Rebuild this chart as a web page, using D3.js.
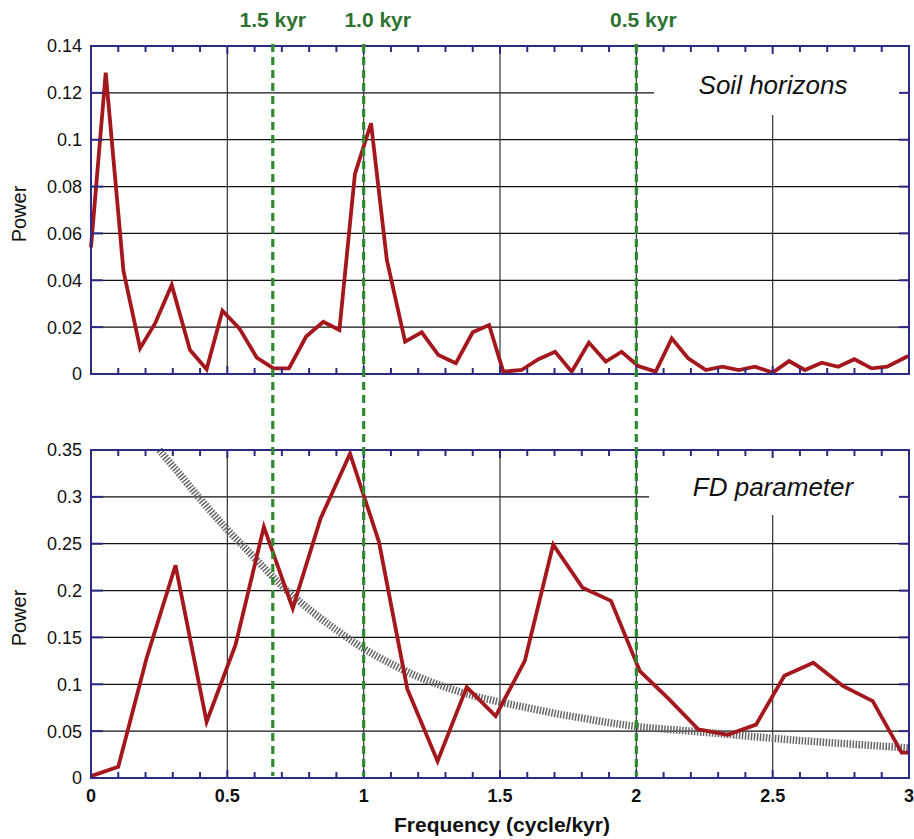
<!DOCTYPE html>
<html>
<head>
<meta charset="utf-8">
<script src="https://cdn.jsdelivr.net/npm/d3@7"></script>
<style>
  body { margin: 0; background: #fff; }
  svg { display: block; font-family: "Liberation Sans", Arial, sans-serif; }
</style>
</head>
<body>
<div id="chart"></div>
<script>
// --- data ---
// soil horizons spectrum
var soilFreq = [0, 0.054, 0.119, 0.180, 0.235, 0.296, 0.363, 0.424, 0.482, 0.544, 0.608, 0.669, 0.726, 0.789,
  0.852, 0.911, 0.968, 1.027, 1.085, 1.152, 1.213, 1.274, 1.338, 1.40, 1.46, 1.512, 1.579, 1.641, 1.702,
  1.763, 1.826, 1.888, 1.946, 2.007, 2.071, 2.13, 2.19, 2.255, 2.315, 2.376, 2.435, 2.50, 2.56, 2.618,
  2.68, 2.74, 2.80, 2.863, 2.92, 2.997];
var soilPower = [0.054, 0.1286, 0.044, 0.011, 0.0216, 0.038, 0.0102, 0.002, 0.027, 0.0195, 0.007, 0.0024, 0.0024, 0.016,
  0.0223, 0.0188, 0.0854, 0.107, 0.0487, 0.0138, 0.0178, 0.0081, 0.0046, 0.0178, 0.0209, 0.001, 0.0017, 0.0063, 0.0095,
  0.001, 0.0134, 0.0053, 0.0095, 0.0034, 0.001, 0.0152, 0.0067, 0.0017, 0.0031, 0.0017, 0.0031, 0.0006, 0.0055, 0.0017,
  0.0048, 0.0031, 0.0063, 0.0024, 0.0031, 0.0077];

// FD parameter spectrum
var fdFreq = [0, 0.1, 0.204, 0.31, 0.424, 0.53, 0.634, 0.74, 0.842, 0.95, 1.056, 1.16, 1.271, 1.378, 1.484,
  1.591, 1.695, 1.803, 1.907, 2.013, 2.117, 2.227, 2.335, 2.439, 2.543, 2.649, 2.759, 2.867, 2.973, 3.0];
var fdPower = [0.002, 0.012, 0.128, 0.227, 0.060, 0.142, 0.268, 0.181, 0.277, 0.346, 0.252, 0.095, 0.018, 0.097, 0.066,
  0.125, 0.249, 0.203, 0.189, 0.114, 0.085, 0.052, 0.046, 0.057, 0.109, 0.123, 0.098, 0.082, 0.027, 0.027];

// grey confidence (red noise) curve for FD
var noiseFreq = [0.25, 0.3, 0.4, 0.5, 0.6, 0.7, 0.8, 0.9, 1.0, 1.1, 1.2, 1.3, 1.4, 1.5, 1.6, 1.7, 1.8, 1.9,
  2.0, 2.2, 2.4, 2.6, 2.8, 3.0];
var noisePower = [0.35, 0.333, 0.298, 0.265, 0.235, 0.205, 0.18, 0.158, 0.138, 0.122, 0.108, 0.097, 0.088, 0.081,
  0.075, 0.069, 0.064, 0.059, 0.055, 0.050, 0.045, 0.040, 0.036, 0.032];

// periods marked with green dashed lines
var periodFreq = [2 / 3, 1, 2];
var periodLabels = ["1.5 kyr", "1.0 kyr", "0.5 kyr"];
var periodLabelShift = [0, 14, 7];

var xTicks = [0, 0.5, 1, 1.5, 2, 2.5, 3];
var xTickLabels = ["0", "0.5", "1", "1.5", "2", "2.5", "3"];
var soilTicks = [0, 0.02, 0.04, 0.06, 0.08, 0.1, 0.12, 0.14];
var soilTickLabels = ["0", "0.02", "0.04", "0.06", "0.08", "0.1", "0.12", "0.14"];
var fdTicks = [0, 0.05, 0.1, 0.15, 0.2, 0.25, 0.3, 0.35];
var fdTickLabels = ["0", "0.05", "0.1", "0.15", "0.2", "0.25", "0.3", "0.35"];

var width = 914, height = 839;
var navy = "#2b2a85", red = "#a3171d", green = "#2f8a2f";

var svg = d3.select("#chart").append("svg")
  .attr("width", width)
  .attr("height", height);

var x = d3.scaleLinear().domain([0, 3]).range([91, 909]);

var panels = [
  { name: "Soil horizons", freq: soilFreq, power: soilPower, ticks: soilTicks, labels: soilTickLabels,
    y: d3.scaleLinear().domain([0, 0.14]).range([374, 46]), box: [654, 114], labelY: 94 },
  { name: "FD parameter", freq: fdFreq, power: fdPower, ticks: fdTicks, labels: fdTickLabels,
    y: d3.scaleLinear().domain([0, 0.35]).range([778, 450]), box: [649, 514], labelY: 496 }
];

panels.forEach(function(p, i) {
  var g = svg.append("g");
  var y = p.y;
  var top = y.range()[1], bottom = y.range()[0];

  // grid
  g.selectAll(".hgrid")
    .data(p.ticks.slice(1, -1))
    .join("line")
    .attr("x1", x(0)).attr("x2", x(3))
    .attr("y1", d => y(d)).attr("y2", d => y(d))
    .attr("stroke", "#111").attr("stroke-width", 1.2);
  g.selectAll(".vgrid")
    .data(xTicks.slice(1, -1))
    .join("line")
    .attr("x1", d => x(d)).attr("x2", d => x(d))
    .attr("y1", top).attr("y2", bottom)
    .attr("stroke", "#333").attr("stroke-width", 1.2);

  // white box behind label
  g.append("rect")
    .attr("x", p.box[0]).attr("y", top + 1)
    .attr("width", x(3) - p.box[0] - 1).attr("height", p.box[1] - top)
    .attr("fill", "#fff");
  g.append("text")
    .attr("x", 773).attr("y", p.labelY)
    .attr("text-anchor", "middle")
    .attr("font-size", "26px")
    .attr("font-style", "italic")
    .attr("fill", "#111")
    .text(p.name);

  // grey noise curve (only on FD panel)
  if (i === 1) {
    var pts = noiseFreq.map((f, k) => [f, noisePower[k]]);
    g.append("path")
      .datum(pts)
      .attr("fill", "none")
      .attr("stroke", "#666")
      .attr("stroke-width", 7.5)
      .attr("stroke-dasharray", "1.5,1.5")
      .attr("d", d3.line().x(d => x(d[0])).y(d => y(d[1])).curve(d3.curveMonotoneX));
  }

  // spectrum
  var data = p.freq.map((f, k) => [f, p.power[k]]);
  g.append("path")
    .datum(data)
    .attr("fill", "none")
    .attr("stroke", red)
    .attr("stroke-width", 3.8)
    .attr("stroke-linejoin", "miter")
    .attr("d", d3.line().x(d => x(d[0])).y(d => y(d[1])));

  // ticks: x minor every 0.1, inward
  var minor = d3.range(1, 30).map(d => d / 10);
  g.selectAll(".xt-top")
    .data(minor)
    .join("line")
    .attr("x1", d => x(d)).attr("x2", d => x(d))
    .attr("y1", top).attr("y2", d => top + (Math.abs(d * 2 - Math.round(d * 2)) < 1e-6 ? 8 : 6))
    .attr("stroke", navy).attr("stroke-width", 2);
  g.selectAll(".xt-bot")
    .data(minor)
    .join("line")
    .attr("x1", d => x(d)).attr("x2", d => x(d))
    .attr("y1", bottom).attr("y2", d => bottom - (Math.abs(d * 2 - Math.round(d * 2)) < 1e-6 ? 8 : 6))
    .attr("stroke", navy).attr("stroke-width", 2);
  // y ticks left and right
  g.selectAll(".yt-l")
    .data(p.ticks)
    .join("line")
    .attr("x1", x(0)).attr("x2", x(0) + 12)
    .attr("y1", d => y(d)).attr("y2", d => y(d))
    .attr("stroke", navy).attr("stroke-width", 2);
  g.selectAll(".yt-r")
    .data(p.ticks)
    .join("line")
    .attr("x1", x(3)).attr("x2", x(3) - 10)
    .attr("y1", d => y(d)).attr("y2", d => y(d))
    .attr("stroke", navy).attr("stroke-width", 2);

  // frame
  g.append("rect")
    .attr("x", x(0)).attr("y", top)
    .attr("width", x(3) - x(0)).attr("height", bottom - top)
    .attr("fill", "none")
    .attr("stroke", navy).attr("stroke-width", 2);

  // y labels
  g.selectAll(".ylab")
    .data(p.ticks)
    .join("text")
    .attr("x", 82)
    .attr("y", d => y(d))
    .attr("dy", "0.36em")
    .attr("text-anchor", "end")
    .attr("font-size", "18px")
    .attr("fill", "#111")
    .text((d, k) => p.labels[k]);

  g.append("text")
    .attr("transform", "translate(26," + ((top + bottom) / 2 + 4) + ") rotate(-90)")
    .attr("text-anchor", "middle")
    .attr("font-size", "20px")
    .attr("fill", "#111")
    .text("Power");
});

// green dashed period lines spanning both panels
svg.selectAll(".period")
  .data(periodFreq)
  .join("line")
  .attr("x1", d => x(d)).attr("x2", d => x(d))
  .attr("y1", 44).attr("y2", 776)
  .attr("stroke", green)
  .attr("stroke-width", 3.2)
  .attr("stroke-dasharray", "8,5");

svg.selectAll(".periodLabel")
  .data(periodFreq)
  .join("text")
  .attr("x", (d, k) => x(d) + periodLabelShift[k])
  .attr("y", 27)
  .attr("text-anchor", "middle")
  .attr("font-size", "21px")
  .attr("font-weight", "bold")
  .attr("fill", "#2e7231")
  .text((d, k) => periodLabels[k]);

// x tick labels under bottom panel
svg.selectAll(".xlab")
  .data(xTicks)
  .join("text")
  .attr("x", d => x(d))
  .attr("y", 802)
  .attr("text-anchor", "middle")
  .attr("font-size", "18px")
  .attr("font-weight", "bold")
  .attr("fill", "#111")
  .text((d, k) => xTickLabels[k]);

svg.append("text")
  .attr("x", 502)
  .attr("y", 832)
  .attr("text-anchor", "middle")
  .attr("font-size", "21px")
  .attr("font-weight", "bold")
  .attr("fill", "#111")
  .text("Frequency (cycle/kyr)");
</script>
</body>
</html>
